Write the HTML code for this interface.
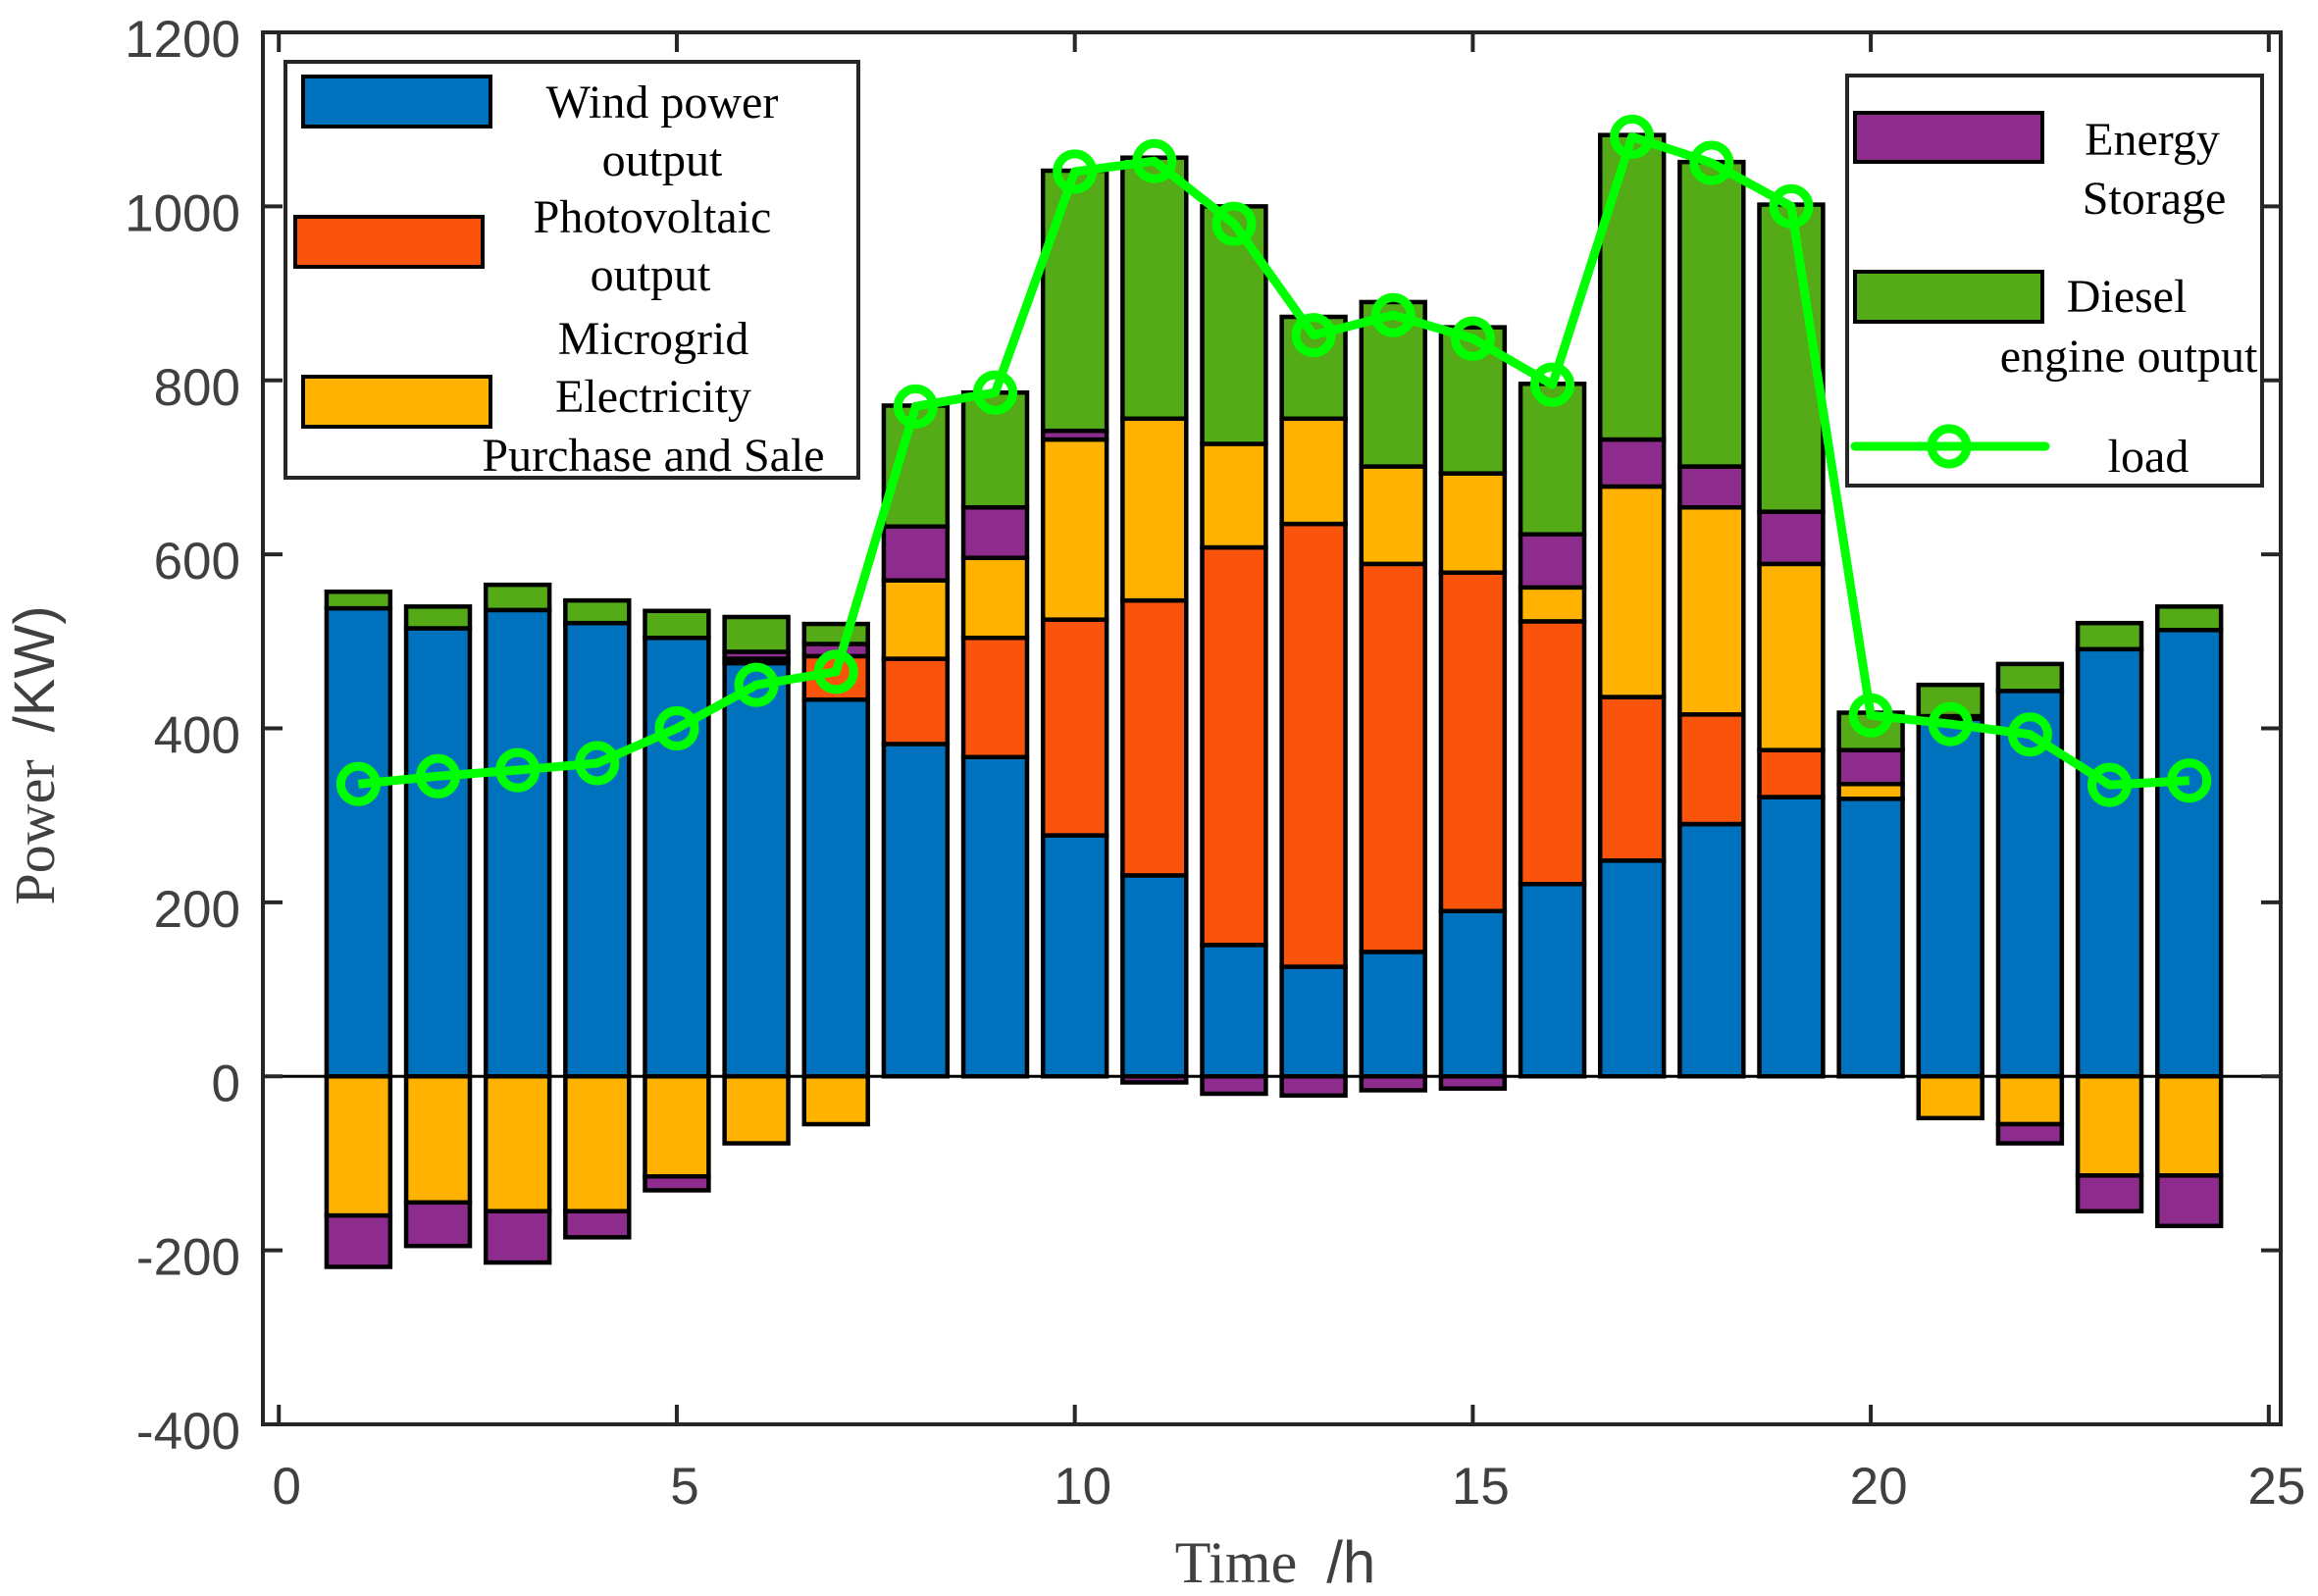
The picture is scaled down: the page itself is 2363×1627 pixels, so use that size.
<!DOCTYPE html>
<html><head><meta charset="utf-8">
<style>
html,body{margin:0;padding:0;background:#fff;}
svg{display:block;}
.tick{font-family:"Liberation Sans",sans-serif;font-size:53px;fill:#404040;}
.leg{font-family:"Liberation Serif",serif;font-size:48px;fill:#000;}
</style></head>
<body>
<svg id="chart" width="2363" height="1627" viewBox="0 0 2363 1627" xmlns="http://www.w3.org/2000/svg">
<g id="bars"></g>
<g id="axes"></g>
<g id="loadg"></g>
<g id="legends"></g>
</svg>
<script>
const hours = [1,2,3,4,5,6,7,8,9,10,11,12,13,14,15,16,17,18,19,20,21,22,23,24];
const windPower = [538,515,536,521,504,475,433,382,367,277,231,151,126,143,190,221,248,290,321,319,411,443,491,513];
const photovoltaic = [0,0,0,0,0,0,50,98,137,248,316,457,509,446,389,302,188,126,54,0,0,0,0,0];
const gridPositive = [0,0,0,0,0,5,0,90,92,207,209,119,121,112,114,39,242,238,214,17,0,0,0,0];
const storagePositive = [0,0,0,0,0,8,14,62,58,10,0,0,0,0,0,61,54,47,60,39,3,0,0,0];
const diesel = [19,25,29,26,31,40,23,139,132,299,300,273,117,189,168,173,350,350,353,43,36,31,30,27];
const gridNegative = [-160,-145,-155,-155,-115,-77,-55,0,0,0,0,0,0,0,0,0,0,0,0,0,-48,-55,-114,-114];
const storageNegative = [-59,-50,-59,-30,-16,0,0,0,0,0,-7,-20,-22,-16,-14,0,0,0,0,0,0,-22,-41,-58];
const load = [336,345,352,360,400,450,465,770,786,1040,1052,980,852,875,848,795,1080,1050,1000,415,405,393,335,340];
const yTicks = [-400,-200,0,200,400,600,800,1000,1200];
const xTicks = [0,5,10,15,20,25];

const NS="http://www.w3.org/2000/svg";
const L=268,R=2325,T=33,B=1452;
const xmin=-0.2,xmax=25.15,ymin=-400,ymax=1200;
const X=v=>L+(v-xmin)/(xmax-xmin)*(R-L);
const Y=v=>B-(v-ymin)/(ymax-ymin)*(B-T);
function mk(tag,attrs,parent){const e=document.createElementNS(NS,tag);for(const k in attrs)e.setAttribute(k,attrs[k]);parent.appendChild(e);return e;}
const C={wind:"#0072BD",pv:"#F9530C",grid:"#FFB300",stor:"#8E2C8E",diesel:"#55AA18",load:"#00FF00"};

const bars=document.getElementById('bars');
const bw=0.8;
hours.forEach((h,i)=>{
  let base=0;
  const pos=[["wind",windPower[i]],["pv",photovoltaic[i]],["grid",gridPositive[i]],["stor",storagePositive[i]],["diesel",diesel[i]]];
  pos.forEach(([k,v])=>{
    if(v<=0)return;
    const r=mk('rect',{x:X(h-bw/2),y:Y(base+v),width:X(h+bw/2)-X(h-bw/2),height:Y(base)-Y(base+v),fill:C[k],stroke:"#000","stroke-width":4.5},bars);
    
    
    base+=v;
  });
  let nb=0;
  [["grid",gridNegative[i]],["stor",storageNegative[i]]].forEach(([k,v])=>{
    if(v>=0)return;
    const r=mk('rect',{x:X(h-bw/2),y:Y(nb),width:X(h+bw/2)-X(h-bw/2),height:Y(nb+v)-Y(nb),fill:C[k],stroke:"#000","stroke-width":4.5},bars);
    
    
    nb+=v;
  });
});

const ax=document.getElementById('axes');
const zl=mk('line',{x1:L,x2:R,y1:Y(0),y2:Y(0),stroke:"#000","stroke-width":3},ax);


const frame=mk('rect',{x:L,y:T,width:R-L,height:B-T,fill:"none",stroke:"#262626","stroke-width":4},ax);


yTicks.forEach(v=>{
  const y=Y(v);
  mk('line',{x1:L,x2:L+20,y1:y,y2:y,stroke:"#262626","stroke-width":4},ax);
  mk('line',{x1:R,x2:R-20,y1:y,y2:y,stroke:"#262626","stroke-width":4},ax);
  const t=mk('text',{x:245,y:y+25,"text-anchor":"end",class:"tick"},ax);
  t.textContent=v;
  
  
});
xTicks.forEach(v=>{
  const x=X(v);
  mk('line',{x1:x,x2:x,y1:B,y2:B-20,stroke:"#262626","stroke-width":4},ax);
  mk('line',{x1:x,x2:x,y1:T,y2:T+20,stroke:"#262626","stroke-width":4},ax);
  const t=mk('text',{x:x+8,y:1533,"text-anchor":"middle",class:"tick"},ax);
  t.textContent=v;
  
  
});
const yl=mk('text',{transform:"translate(55,770) rotate(-90)","text-anchor":"middle","font-size":"58px",fill:"#404040"},ax);


yl.innerHTML='<tspan font-family="Liberation Serif, serif">Power</tspan><tspan font-family="Liberation Sans, sans-serif" dx="28">/KW)</tspan>';
const xl=mk('text',{x:1300,y:1613,"text-anchor":"middle","font-size":"60px",fill:"#404040"},ax);


xl.innerHTML='<tspan font-family="Liberation Serif, serif">Time</tspan><tspan font-family="Liberation Sans, sans-serif" dx="30">/h</tspan>';

const lg=document.getElementById('loadg');
const pts=hours.map((h,i)=>X(h)+","+Y(load[i])).join(" ");
const pl=mk('polyline',{points:pts,fill:"none",stroke:C.load,"stroke-width":9,"stroke-linejoin":"round"},lg);


hours.forEach((h,i)=>{
  const c=mk('circle',{cx:X(h),cy:Y(load[i]),r:18,fill:"none",stroke:C.load,"stroke-width":9},lg);
  
  
});

const lgd=document.getElementById('legends');
function box(x,y,w,h,name){const r=mk('rect',{x,y,width:w,height:h,fill:"#fff",stroke:"#262626","stroke-width":4},lgd);}
function patch(x,y,w,h,fill,name){const r=mk('rect',{x,y,width:w,height:h,fill,stroke:"#000","stroke-width":4},lgd);}
function txt(x,y,s,name){const t=mk('text',{x,y,"text-anchor":"middle",class:"leg"},lgd);t.textContent=s;}
box(291,63,584,424,'legend-left');
patch(309,78,191,51,C.wind,'legend-swatch-wind');
patch(301,221,191,51,C.pv,'legend-swatch-pv');
patch(309,384,191,51,C.grid,'legend-swatch-grid');
txt(675,120,"Wind power",'legend-label-wind');
txt(675,179,"output",'legend-label-wind-2');
txt(665,237,"Photovoltaic",'legend-label-pv');
txt(663,296,"output",'legend-label-pv-2');
txt(666,361,"Microgrid",'legend-label-grid');
txt(666,420,"Electricity",'legend-label-grid-2');
txt(666,480,"Purchase and Sale",'legend-label-grid-3');
box(1883,77,423,418,'legend-right');
patch(1891,115,191,50,C.stor,'legend-swatch-storage');
patch(1891,277,191,51,C.diesel,'legend-swatch-diesel');
const ll=mk('line',{x1:1891,x2:2085,y1:455,y2:455,stroke:C.load,"stroke-width":9,"stroke-linecap":"round"},lgd);


const lc=mk('circle',{cx:1987,cy:455,r:18,fill:"none",stroke:C.load,"stroke-width":9},lgd);


txt(2194,158,"Energy",'legend-label-storage');
txt(2196,218,"Storage",'legend-label-storage-2');
txt(2168,318,"Diesel",'legend-label-diesel');
txt(2170,379,"engine output",'legend-label-diesel-2');
txt(2190,481,"load",'legend-label-load');
</script>
</body></html>
